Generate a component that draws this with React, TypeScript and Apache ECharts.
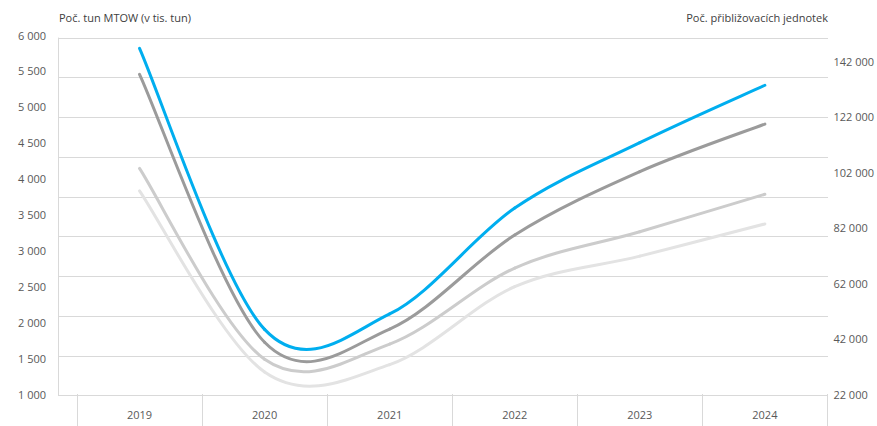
import React, { useEffect, useRef } from "react";
import * as echarts from "echarts";

const years = ["2019", "2020", "2021", "2022", "2023", "2024"];
// Left axis (MTOW, thousands of tonnes)
const mtowBlue = [5815, 1900, 2115, 3590, 4500, 5300];
const mtowGray = [5453, 1720, 1905, 3215, 4097, 4760];
// Right axis (approach units)
const unitsLight = [103300, 34500, 40000, 67400, 80500, 94000];
const unitsLighter = [95200, 29900, 32600, 60700, 71700, 83300];
const leftTicks = [1000, 1500, 2000, 2500, 3000, 3500, 4000, 4500, 5000, 5500, 6000];
const rightTicks = [22000, 42000, 62000, 82000, 102000, 122000, 142000];

const fmt = (v: number) => String(v).replace(/\B(?=(\d{3})+(?!\d))/g, " ");
const FONT = "'Open Sans', sans-serif";

export default function App() {
  const ref = useRef<HTMLDivElement>(null);
  useEffect(() => {
    document.body.style.margin = "0";
    const chart = echarts.init(ref.current!, null, { renderer: "svg" });

    // Smoothed line (Catmull-Rom style, like office chart smoothing) drawn per segment
    const smoothSeries = (values: number[], color: string, yAxisIndex: number) => ({
      type: "custom",
      xAxisIndex: 0,
      yAxisIndex,
      data: values.map((v, i) => [i, v]),
      renderItem: (params: any, api: any) => {
        const i = params.dataIndex;
        const n = values.length;
        if (i >= n - 1) return null;
        const pts = values.map((v, k) => api.coord([k, v]));
        const p0 = pts[Math.max(i - 1, 0)];
        const p1 = pts[i];
        const p2 = pts[i + 1];
        const p3 = pts[Math.min(i + 2, n - 1)];
        return {
          type: "bezierCurve",
          shape: {
            x1: p1[0],
            y1: p1[1],
            x2: p2[0],
            y2: p2[1],
            cpx1: p1[0] + (p2[0] - p0[0]) / 6,
            cpy1: p1[1] + (p2[1] - p0[1]) / 6,
            cpx2: p2[0] - (p3[0] - p1[0]) / 6,
            cpy2: p2[1] - (p3[1] - p1[1]) / 6,
          },
          style: { stroke: color, lineWidth: 3, fill: null, lineCap: "round" },
        };
      },
    });

    chart.setOption({
      animation: false,
      grid: [
        { left: 77, right: 49, top: 35, bottom: 32 },
        { left: 58, right: 49, top: 38, bottom: 30.5 },
      ],
      xAxis: [
        {
          type: "category",
          gridIndex: 0,
          data: years,
          boundaryGap: true,
          axisLine: { show: false },
          axisTick: { show: true, length: 32, lineStyle: { color: "#d9d9d9", width: 1 } },
          axisLabel: { margin: 15, fontSize: 11, color: "#595959", fontFamily: FONT },
        },
        { type: "value", gridIndex: 1, min: 0, max: 1, show: false },
      ],
      yAxis: [
        {
          type: "value",
          gridIndex: 0,
          min: 1000,
          max: 6000,
          interval: 500,
          axisLine: { show: false },
          axisTick: { show: false },
          splitLine: { show: false },
          axisLabel: {
            margin: 31,
            fontSize: 11,
            color: "#595959",
            fontFamily: FONT,
            customValues: leftTicks,
            formatter: (v: number) => fmt(v),
          },
        },
        {
          type: "value",
          gridIndex: 0,
          position: "right",
          min: 22000,
          max: 151400,
          axisLine: { show: false },
          axisTick: { show: false },
          splitLine: { show: false },
          axisLabel: {
            margin: 6,
            fontSize: 11,
            color: "#595959",
            fontFamily: FONT,
            customValues: rightTicks,
            formatter: (v: number) => fmt(v),
          },
        },
        {
          type: "value",
          gridIndex: 1,
          min: 0,
          max: 9,
          interval: 1,
          axisLabel: { show: false },
          axisTick: { show: false },
          axisLine: { show: true, lineStyle: { color: "#d9d9d9", width: 1 } },
          splitLine: { show: true, lineStyle: { color: "#d9d9d9", width: 1 } },
        },
      ],
      graphic: [
        {
          type: "text",
          left: 59,
          top: 12,
          style: { text: "Poč. tun MTOW (v tis. tun)", fontSize: 11, fill: "#404040", fontFamily: FONT },
        },
        {
          type: "text",
          right: 49,
          top: 12,
          style: { text: "Poč. přibližovacích jednotek", fontSize: 11, fill: "#404040", fontFamily: FONT },
        },
      ],
      series: [
        smoothSeries(unitsLighter, "#e3e3e3", 1),
        smoothSeries(unitsLight, "#cccccc", 1),
        smoothSeries(mtowGray, "#9b9b9b", 0),
        smoothSeries(mtowBlue, "#00aeef", 0),
      ],
    });
    return () => chart.dispose();
  }, []);
  return <div ref={ref} style={{ width: 877, height: 426 }} />;
}
